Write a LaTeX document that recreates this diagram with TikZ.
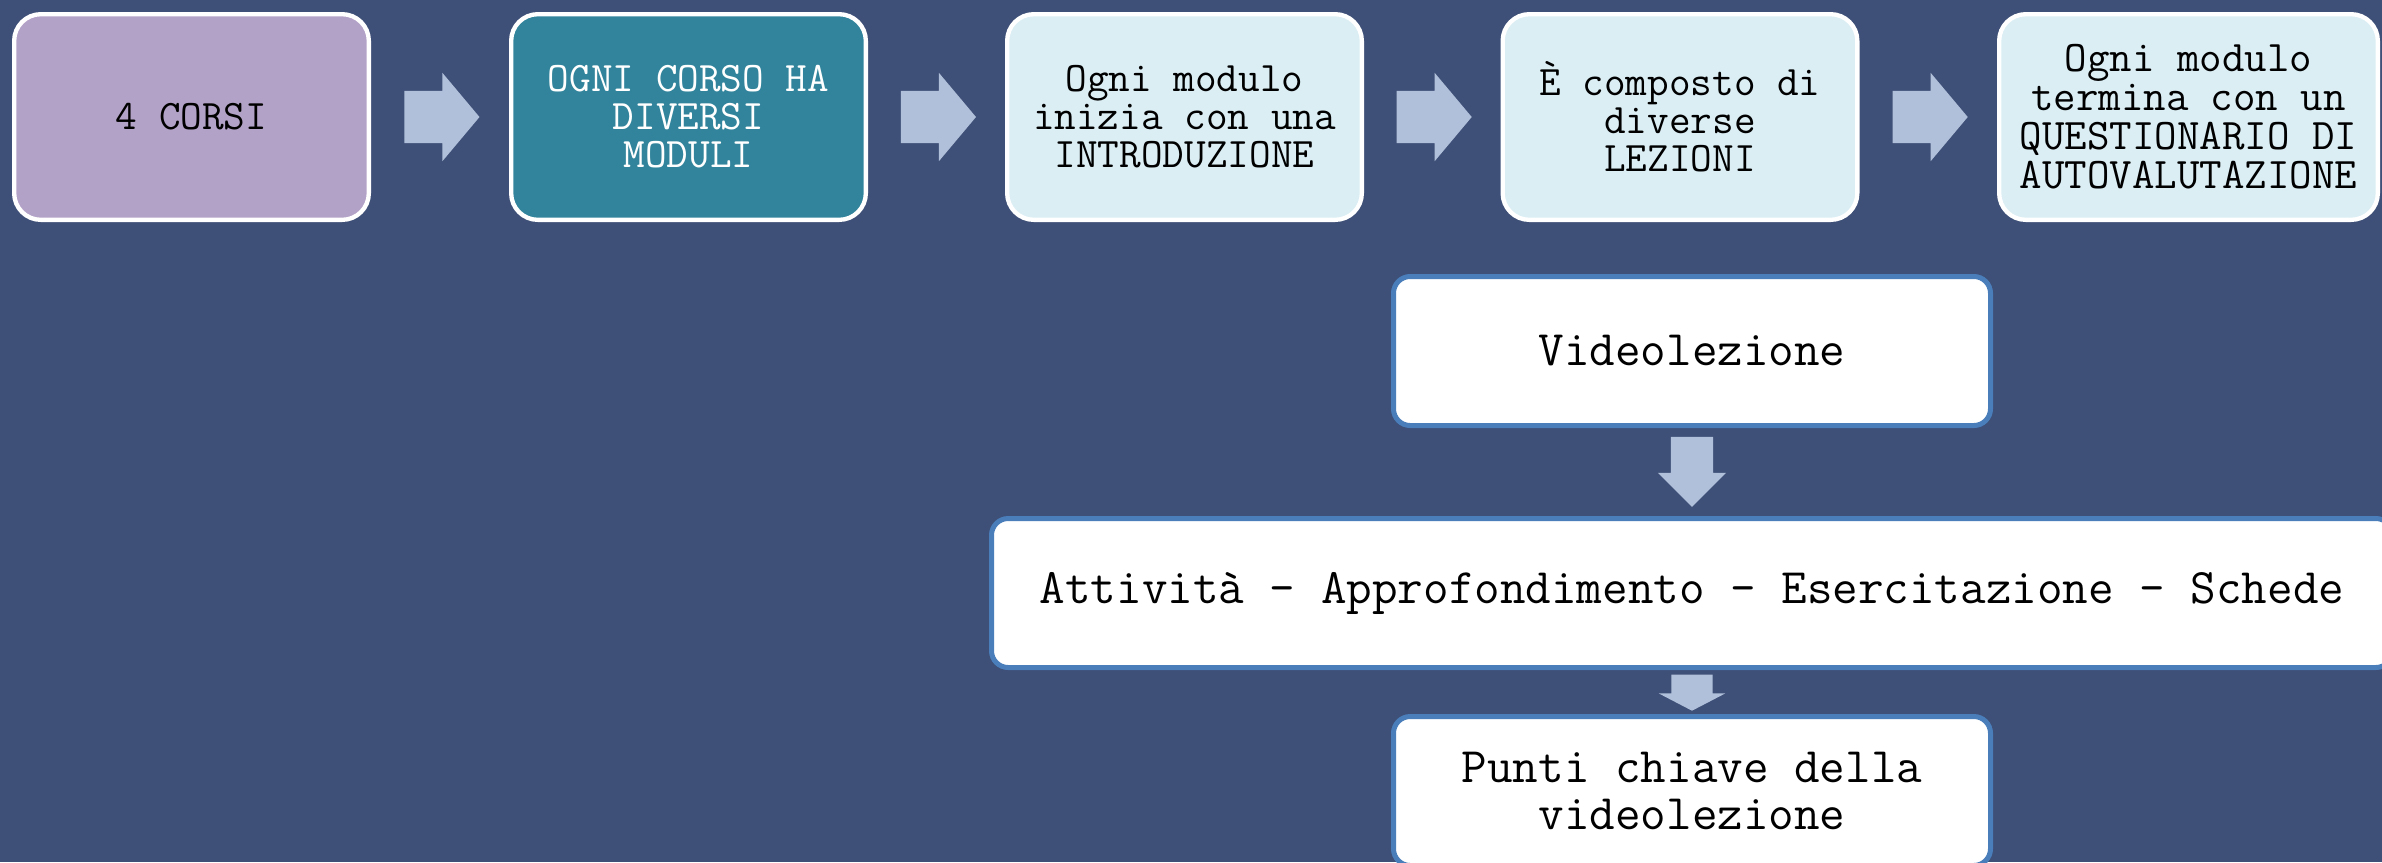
\documentclass[tikz,border=0pt]{standalone}
\usepackage{fontspec}
\usetikzlibrary{shapes.arrows}
\definecolor{sfondo}{HTML}{3E5077}
\definecolor{lilla}{HTML}{B3A2C7}
\definecolor{petrolio}{HTML}{31849B}
\definecolor{azzurro}{HTML}{DBEEF4}
\definecolor{freccia}{HTML}{B0C0DA}
\definecolor{bordo}{HTML}{4A7EBB}
\begin{document}
\begin{tikzpicture}[x=0.3pt, y=-0.3pt,
  passo/.style={draw=white, line width=1.3pt, rounded corners=8pt, inner sep=0pt,
    minimum width=106.4pt, minimum height=61.7pt, align=center,
    font=\ttfamily\fontsize{12.6}{11.4}\selectfont},
  dettaglio/.style={draw=bordo, fill=white, line width=1.5pt, rounded corners=5pt,
    minimum width=179.1pt, minimum height=44.7pt, align=center,
    font=\ttfamily\fontsize{14.9}{14}\selectfont},
  avanti/.style={single arrow, fill=freccia, inner xsep=0pt, inner ysep=7.65pt, xshift=-2.7pt,
    minimum height=22.5pt, single arrow head extend=5.4pt, single arrow tip angle=100},
  giu/.style={single arrow, fill=freccia, inner ysep=0pt, shape border rotate=270}]
\clip (0,0) rectangle (2382,862);
\fill[sfondo] (0,0) rectangle (2382,862);
% riga dei passi
\node[passo, fill=lilla] (corsi) at (191.5,117) {4 CORSI};
\node[passo, fill=petrolio, text=white] (moduli) at (688.5,117) {OGNI CORSO HA\\DIVERSI\\MODULI};
\node[passo, fill=azzurro] (intro) at (1184.5,117) {Ogni modulo\\inizia con una\\INTRODUZIONE};
\node[passo, fill=azzurro] (lezioni) at (1680,117) {È composto di\\diverse\\LEZIONI};
\node[passo, fill=azzurro, minimum width=113.6pt, font=\ttfamily\fontsize{13.1}{11.7}\selectfont]
  (questionario) at (2188.5,117) {Ogni modulo\\termina con un\\QUESTIONARIO DI\\AUTOVALUTAZIONE};
\path (corsi.east) -- (moduli.west) node[midway, avanti] (f1) {};
\path (moduli.east) -- (intro.west) node[midway, avanti] (f2) {};
\path (intro.east) -- (lezioni.west) node[midway, avanti] (f3) {};
\path (lezioni.east) -- (questionario.west) node[midway, avanti] (f4) {};
% la lezione
\node[dettaglio] (video) at (1692,351) {Videolezione};
\node[dettaglio, minimum width=420.3pt] (attivita) at (1692,593) {Attività – Approfondimento – Esercitazione – Schede};
\node[dettaglio] (punti) at (1692,791) {Punti chiave della\\videolezione};
\path (video.south) -- (attivita.north) node[midway, giu, inner xsep=6.15pt, yshift=3.2pt,
  minimum height=21pt, single arrow head extend=3.9pt, single arrow tip angle=90] (g1) {};
\path (attivita.south) -- (punti.north) node[midway, giu, inner xsep=6pt, yshift=1.4pt,
  minimum height=10.8pt, single arrow head extend=3.75pt, single arrow tip angle=125] (g2) {};
\end{tikzpicture}
\end{document}
